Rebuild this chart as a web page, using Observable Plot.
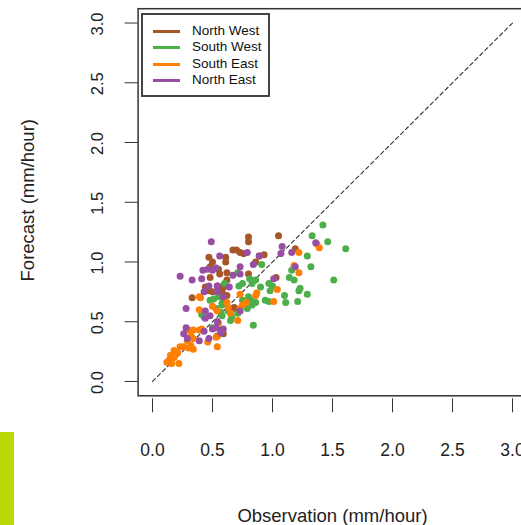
<!DOCTYPE html>
<html><head><meta charset="utf-8">
<script src="https://cdn.jsdelivr.net/npm/d3@7"></script>
<script src="https://cdn.jsdelivr.net/npm/@observablehq/plot@0.6"></script>
<style>
html,body{margin:0;padding:0;background:#fff;}
#wrap{position:relative;width:521px;height:525px;overflow:hidden;font-family:"Liberation Sans",Arial,sans-serif;}
#legend{position:absolute;left:141px;top:13px;width:129px;height:84px;border:2px solid #444;box-sizing:border-box;background:#fff;}
.row{position:absolute;left:0;height:16px;width:100%;}
.sw{position:absolute;left:10px;top:7px;width:27px;height:3px;}
.lb{position:absolute;left:49px;top:0;font-size:13.5px;line-height:16px;color:#111;white-space:nowrap;}
#bar{position:absolute;left:0;top:432px;width:14px;height:93px;background:#bcd906;}
</style></head>
<body><div id="wrap"><div id="bar"></div></div>
<script>
const regions = ["North West","South West","South East","North East"];
const colors = ["#a65628","#4daf4a","#ff7f00","#984ea3"];
const xTitle = "Observation (mm/hour)";
const yTitle = "Forecast (mm/hour)";
const xTicks = [0,0.5,1,1.5,2,2.5,3];
const yTicks = [0,0.5,1,1.5,2,2.5,3];
const tickLabels = ["0.0","0.5","1.0","1.5","2.0","2.5","3.0"];
const refLine = [0,3];

const nwObs = [0.80,0.80,1.05,0.67,0.70,0.73,0.76,0.47,0.50,0.48,0.61,0.61,0.89,0.93,0.86,1.19,0.56,0.80,1.03,0.48,0.62,0.54,0.57,0.47,0.50,0.58,0.33,0.68,0.69,0.58,0.44,0.57,0.59,0.54,0.62,0.59,0.62,0.55];
const nwFc  = [1.21,1.17,1.22,1.10,1.10,1.08,1.07,1.04,1.00,0.96,1.04,1.00,1.05,1.06,1.00,1.11,0.90,0.90,0.87,0.87,0.85,0.80,0.79,0.76,0.75,0.75,0.70,0.62,0.61,0.65,0.79,0.43,0.40,0.38,0.91,0.79,0.72,0.94];

const swObs = [1.42,1.33,1.46,1.61,1.29,1.32,1.51,0.91,1.14,1.18,1.16,1.23,1.22,1.29,1.10,1.11,1.21,0.97,1.00,0.90,0.98,0.94,0.97,0.86,0.83,0.81,0.71,0.60,0.72,0.75,0.80,0.82,0.75,0.77,0.83,0.86,0.79,0.65,0.71,0.51,0.48,0.55,0.59,0.58,0.53,0.57,0.58,0.43,0.41,0.66,0.84,0.63,0.54,0.50];
const swFc  = [1.31,1.22,1.17,1.11,1.05,0.96,0.85,0.98,0.87,0.85,0.93,0.78,0.76,0.73,0.72,0.66,0.67,0.82,0.80,0.79,0.76,0.68,0.67,0.85,0.82,0.86,0.91,0.82,0.80,0.82,0.71,0.68,0.68,0.65,0.64,0.66,0.61,0.51,0.57,0.69,0.68,0.71,0.68,0.64,0.61,0.58,0.55,0.54,0.56,0.54,0.47,0.59,0.50,0.45];

const seObs = [1.37,1.39,1.22,1.18,1.22,1.04,1.01,0.87,0.86,0.73,0.78,0.75,0.73,0.39,0.39,0.50,0.62,0.63,0.54,0.65,0.71,0.55,0.30,0.34,0.39,0.41,0.32,0.34,0.29,0.46,0.54,0.23,0.26,0.30,0.34,0.18,0.21,0.15,0.18,0.14,0.12,0.16,0.22,0.32,0.53,0.40];
const seFc  = [1.15,1.12,1.08,0.97,0.91,0.77,0.67,0.74,0.72,0.73,0.66,0.64,0.61,0.71,0.60,0.63,0.66,0.62,0.59,0.57,0.51,0.49,0.43,0.43,0.43,0.44,0.38,0.36,0.34,0.33,0.29,0.29,0.29,0.28,0.27,0.26,0.24,0.22,0.20,0.18,0.16,0.15,0.15,0.30,0.37,0.70];

const neObs = [0.49,0.56,0.79,0.89,1.08,1.07,1.16,1.36,1.19,0.73,0.84,0.42,0.46,0.50,0.53,0.23,0.33,0.41,0.47,0.54,0.64,0.67,0.73,1.01,0.43,0.54,0.59,0.28,0.44,0.48,0.44,0.73,0.28,0.26,0.29,0.39,0.47,0.50,0.53,0.59,0.57,0.54,0.43];
const neFc  = [1.17,1.05,1.08,1.05,1.13,1.07,1.08,1.16,0.96,0.96,0.98,0.93,0.94,0.93,0.95,0.88,0.85,0.86,0.80,0.80,0.79,0.89,0.90,0.86,0.75,0.75,0.71,0.61,0.59,0.55,0.53,0.59,0.45,0.40,0.36,0.34,0.36,0.44,0.45,0.44,0.41,0.50,0.42];

const series = [[nwObs,nwFc],[swObs,swFc],[seObs,seFc],[neObs,neFc]];
const data = [];
series.forEach(([o,f],k) => o.forEach((v,i) => data.push({region: regions[k], obs: v, fc: f[i]})));

const font = '"Liberation Sans", Arial, sans-serif';
const chart = Plot.plot({
  width: 521, height: 525,
  marginLeft: 137.6, marginRight: -5.4, marginTop: 8.2, marginBottom: 129.7,
  x: {domain: [-0.12, 3.12]},
  y: {domain: [-0.12, 3.12]},
  color: {domain: regions, range: colors},
  style: {fontFamily: font, background: "white", color: "#222"},
  marks: [
    Plot.axisY(yTicks, {tickSize: 13, tickFormat: () => "", label: null, stroke: "#333"}),
    Plot.axisX(xTicks, {tickSize: 14, tickFormat: () => "", label: null, stroke: "#333", dy: 3}),
    Plot.text(xTicks, {x: d => d, text: (d,i) => tickLabels[i], frameAnchor: "bottom", lineAnchor: "middle", textAnchor: "middle", dy: 55, fontSize: 17.5, fill: "#222"}),
    Plot.text(yTicks, {y: d => d, text: (d,i) => tickLabels[i], frameAnchor: "left", textAnchor: "middle", lineAnchor: "middle", dx: -40.6, dy: 1, rotate: -90, fontSize: 16.5, fill: "#222"}),
    Plot.text([xTitle], {text: d => d, frameAnchor: "bottom", lineAnchor: "middle", textAnchor: "middle", dy: 120, fontSize: 18.5, fill: "#222"}),
    Plot.text([yTitle], {text: d => d, frameAnchor: "left", textAnchor: "middle", lineAnchor: "middle", dx: -109.6, dy: -2, rotate: -90, fontSize: 18.5, fill: "#222"}),
    Plot.line(refLine, {x: d => d, y: d => d, stroke: "#333", strokeWidth: 1.1, strokeDasharray: "4,3"}),
    Plot.dot(data, {x: "obs", y: "fc", fill: "region", r: 3.5}),
    Plot.frame({stroke: "#333", strokeWidth: 1.5})
  ]
});
const wrap = document.getElementById("wrap");
chart.style.position = "absolute"; chart.style.left = "0"; chart.style.top = "0";
wrap.insertBefore(chart, wrap.firstChild);

const legend = document.createElement("div");
legend.id = "legend";
regions.forEach((r,i) => {
  const row = document.createElement("div");
  row.className = "row";
  row.style.top = (8 + i*16.3) + "px";
  const sw = document.createElement("div"); sw.className = "sw"; sw.style.background = colors[i];
  const lb = document.createElement("div"); lb.className = "lb"; lb.textContent = r;
  row.appendChild(sw); row.appendChild(lb); legend.appendChild(row);
});
wrap.appendChild(legend);
</script>
</body></html>
